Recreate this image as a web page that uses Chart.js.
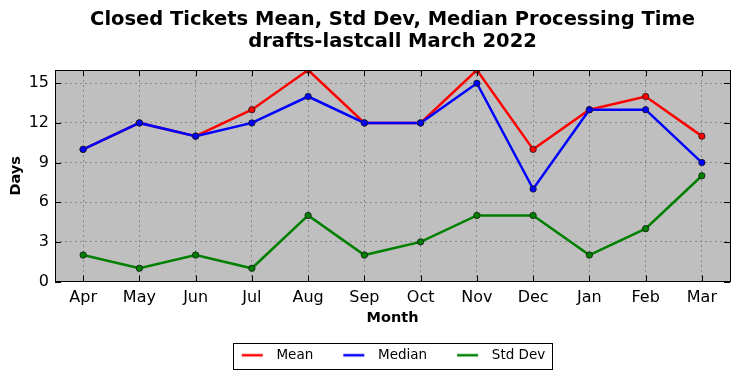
<!DOCTYPE html>
<html>
<head>
<meta charset="utf-8">
<script src="https://cdn.jsdelivr.net/npm/chart.js@4/dist/chart.umd.min.js"></script>
<style>
html,body{margin:0;padding:0;background:#fff;}
#wrap{width:740px;height:378px;}
</style>
</head>
<body>
<div id="wrap"><canvas id="c" width="740" height="378"></canvas></div>
<script>
const months = ["Apr","May","Jun","Jul","Aug","Sep","Oct","Nov","Dec","Jan","Feb","Mar"];
const meanDays = [10,12,11,13,16,12,12,16,10,13,14,11];
const medianDays = [10,12,11,12,14,12,12,15,7,13,13,9];
const stdDevDays = [2,1,2,1,5,2,3,5,5,2,4,8];
const yTicks = [0,3,6,9,12,15];

const FONT = "'DejaVu Sans', sans-serif";
const LEG_L = 20, LEG_LINE = 21, LEG_R = 7;

function legendLine(color) {
  const c = document.createElement('canvas');
  c.width = LEG_L + LEG_LINE + LEG_R; c.height = 6;
  const g = c.getContext('2d');
  g.strokeStyle = color; g.lineWidth = 2.5;
  g.beginPath(); g.moveTo(LEG_L, 3); g.lineTo(LEG_L + LEG_LINE, 3); g.stroke();
  return c;
}

const framePlugin = {
  id: 'frame',
  afterLayout(chart) {
    const lg = chart.legend;
    if (lg) { lg.left -= 9; lg.right -= 9; }
  },
  beforeDraw(chart) {
    const a = chart.chartArea, ctx = chart.ctx;
    ctx.save();
    ctx.fillStyle = '#bfbfbf';
    ctx.fillRect(a.left, a.top, a.right - a.left, a.bottom - a.top);
    ctx.restore();
  },
  afterDraw(chart) {
    const a = chart.chartArea, ctx = chart.ctx;
    ctx.save();
    ctx.strokeStyle = '#000';
    ctx.lineWidth = 1;
    const xs = chart.scales.x, ys = chart.scales.y;
    ctx.beginPath();
    for (let i = 0; i < months.length; i++) {
      const px = Math.round(xs.getPixelForValue(i)) + 0.5;
      ctx.moveTo(px, a.bottom); ctx.lineTo(px, a.bottom - 6);
      ctx.moveTo(px, a.top); ctx.lineTo(px, a.top + 6);
    }
    for (const v of yTicks) {
      const py = Math.round(ys.getPixelForValue(v)) + 0.5;
      ctx.moveTo(a.left, py); ctx.lineTo(a.left + 6, py);
      ctx.moveTo(a.right, py); ctx.lineTo(a.right - 6, py);
    }
    ctx.stroke();
    ctx.strokeRect(Math.round(a.left) + 0.5, Math.round(a.top) + 0.5, Math.round(a.right - a.left), Math.round(a.bottom - a.top));
    const hb = chart.legend && chart.legend.legendHitBoxes;
    if (hb && hb.length) {
      let l = Infinity, r = -Infinity, t = Infinity, b = -Infinity;
      hb.forEach(h => { l = Math.min(l, h.left); r = Math.max(r, h.left + h.width); t = Math.min(t, h.top); b = Math.max(b, h.top + h.height); });
      const fl = l + LEG_L - 9, fr = r + 6;
      ctx.strokeRect(Math.round(fl) + 0.5, Math.round(t - 6) + 0.5, Math.round(fr - fl), Math.round(b - t + 12));
    }
    ctx.restore();
  }
};

function ds(label, data, color, order) {
  return {
    label, data, order,
    borderColor: color, backgroundColor: color,
    borderWidth: 2.5,
    pointRadius: 3.2, pointHoverRadius: 3.2,
    pointBackgroundColor: color, pointBorderColor: '#1a1a1a', pointBorderWidth: 0.8,
    tension: 0, fill: false
  };
}

new Chart(document.getElementById('c'), {
  type: 'line',
  data: {
    labels: months,
    datasets: [
      ds('Mean', meanDays, '#ff0000', 3),
      ds('Median', medianDays, '#0000ff', 2),
      ds('Std Dev', stdDevDays, '#008000', 1)
    ]
  },
  options: {
    responsive: false,
    animation: false,
    devicePixelRatio: 1,
    layout: { padding: { left: 0, right: 10, top: 0, bottom: 6 } },
    plugins: {
      title: {
        display: true,
        fullSize: false,
        text: ['Closed Tickets Mean, Std Dev, Median Processing Time', 'drafts-lastcall March 2022'],
        font: { family: FONT, size: 19.5, weight: 'bold', lineHeight: 1.13 },
        color: '#000',
        padding: { top: 9, bottom: 17 }
      },
      legend: {
        position: 'bottom',
        fullSize: false,
        labels: {
          font: { family: FONT, size: 13.5 },
          color: '#000',
          usePointStyle: true,
          pointStyleWidth: LEG_L + LEG_LINE + LEG_R,
          boxHeight: 6,
          padding: 10,
          sort: (a, b) => a.datasetIndex - b.datasetIndex,
          generateLabels(chart) {
            const items = Chart.defaults.plugins.legend.labels.generateLabels(chart);
            items.forEach(it => {
              const d = chart.data.datasets[it.datasetIndex];
              it.pointStyle = legendLine(d.borderColor);
            });
            return items;
          }
        }
      },
      tooltip: { enabled: false }
    },
    scales: {
      x: {
        offset: true,
        grid: { offset: false, color: '#8a8a8a', lineWidth: 1, drawTicks: false },
        border: { display: false, dash: [2, 3] },
        ticks: { font: { family: FONT, size: 16 }, color: '#000', padding: 7, maxRotation: 0 },
        title: { display: true, text: 'Month', font: { family: FONT, size: 14.5, weight: 'bold' }, color: '#000', padding: { top: 0, bottom: 12 } },
        afterFit(s) { s.height = 57; }
      },
      y: {
        min: 0, max: 16,
        grid: { color: '#8a8a8a', lineWidth: 1, drawTicks: false },
        border: { display: false, dash: [2, 3] },
        ticks: { stepSize: 3, font: { family: FONT, size: 16 }, color: '#000', padding: 6 },
        afterBuildTicks(s) { s.ticks = yTicks.map(v => ({ value: v })); },
        title: { display: true, text: 'Days', font: { family: FONT, size: 14.5, weight: 'bold' }, color: '#000', padding: { top: 8, bottom: 0 } },
        afterFit(s) { s.width = 55; }
      }
    }
  },
  plugins: [framePlugin]
});
</script>
</body>
</html>
